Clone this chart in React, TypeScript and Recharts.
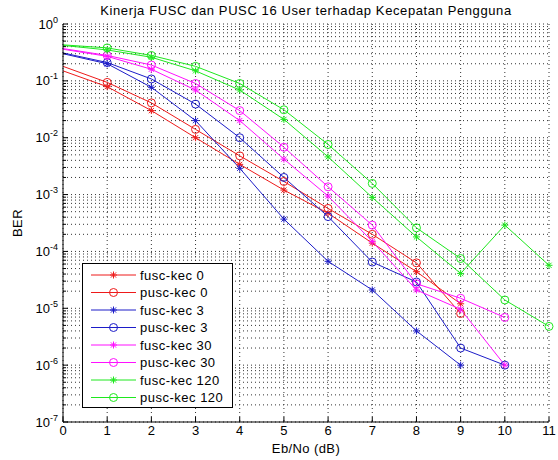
import React from "react";
import { LineChart, Line, XAxis, YAxis, CartesianGrid, Legend } from "recharts";

// Eb/No axis (dB)
const ebNo = [0, 1, 2, 3, 4, 5, 6, 7, 8, 9, 10, 11];

// BER per series (null = no point)
const fuscKec0 = [0.15, 0.079, 0.03, 0.01, 0.0034, 0.0012, 4.7e-4, 1.4e-4, 4.4e-5, 1.2e-5, null, null];
const puscKec0 = [0.18, 0.094, 0.041, 0.014, 0.0048, 0.0017, 5.7e-4, 2.0e-4, 6.3e-5, 8.1e-6, null, null];
const fuscKec3 = [0.3, 0.2, 0.077, 0.02, 0.0029, 3.7e-4, 6.7e-5, 2.1e-5, 4.0e-6, 1.0e-6, null, null];
const puscKec3 = [0.31, 0.21, 0.108, 0.039, 0.01, 0.002, 4.1e-4, 6.5e-5, 2.9e-5, 2.0e-6, 1.0e-6, null];
const fuscKec30 = [0.36, 0.27, 0.16, 0.069, 0.02, 0.0042, 9.4e-4, 1.5e-4, 2.1e-5, 9.6e-6, 1.0e-6, null];
const puscKec30 = [0.37, 0.28, 0.19, 0.09, 0.03, 0.0068, 0.00137, 2.9e-4, 2.7e-5, 1.5e-5, 6.9e-6, null];
const fuscKec120 = [0.42, 0.35, 0.26, 0.15, 0.069, 0.021, 0.0046, 8.9e-4, 1.8e-4, 4.1e-5, 2.9e-4, 5.7e-5];
const puscKec120 = [0.43, 0.38, 0.28, 0.18, 0.09, 0.031, 0.0076, 0.00157, 2.6e-4, 7.5e-5, 1.4e-5, 4.8e-6];

// y ticks: decades + minor multiples
const decades = [1e-7, 1e-6, 1e-5, 1e-4, 1e-3, 1e-2, 1e-1, 1];
const minorSteps = [2, 3, 4, 5, 6, 7, 8, 9];

const FONT = "'Liberation Sans', Arial, Helvetica, sans-serif";
const RED = "#ee1a1a";
const BLUE = "#1c1cc8";
const MAGENTA = "#ff10ff";
const GREEN = "#1ee81e";

const series = [
  { key: "f0", name: "fusc-kec 0", color: RED, marker: "star", values: fuscKec0 },
  { key: "p0", name: "pusc-kec 0", color: RED, marker: "circle", values: puscKec0 },
  { key: "f3", name: "fusc-kec 3", color: BLUE, marker: "star", values: fuscKec3 },
  { key: "p3", name: "pusc-kec 3", color: BLUE, marker: "circle", values: puscKec3 },
  { key: "f30", name: "fusc-kec 30", color: MAGENTA, marker: "star", values: fuscKec30 },
  { key: "p30", name: "pusc-kec 30", color: MAGENTA, marker: "circle", values: puscKec30 },
  { key: "f120", name: "fusc-kec 120", color: GREEN, marker: "star", values: fuscKec120 },
  { key: "p120", name: "pusc-kec 120", color: GREEN, marker: "circle", values: puscKec120 },
];

const data = ebNo.map((x, i) => {
  const row: Record<string, number | null> = { x };
  series.forEach((s) => {
    row[s.key] = s.values[i];
  });
  return row;
});

const yTicks: number[] = [];
decades.forEach((d) => {
  yTicks.push(d);
  if (d < 1) minorSteps.forEach((m) => yTicks.push(m * d));
});

const isMajor = (v: number) => {
  const l = Math.log10(v);
  return Math.abs(l - Math.round(l)) < 1e-6;
};

function Marker({ shape, color, cx, cy }: { shape: string; color: string; cx: number; cy: number }) {
  if (shape === "circle") {
    return <circle cx={cx} cy={cy} r={4} fill="none" stroke={color} strokeWidth={1} />;
  }
  const s = 3.5;
  const d = 2.6;
  return (
    <g stroke={color} strokeWidth={1}>
      <line x1={cx - s} y1={cy} x2={cx + s} y2={cy} />
      <line x1={cx} y1={cy - s} x2={cx} y2={cy + s} />
      <line x1={cx - d} y1={cy - d} x2={cx + d} y2={cy + d} />
      <line x1={cx - d} y1={cy + d} x2={cx + d} y2={cy - d} />
    </g>
  );
}

const makeDot = (shape: string, color: string) => (props: any) => {
  const { cx, cy, payload, index } = props;
  if (cx == null || cy == null || payload?.[props.dataKey] == null || payload.x === 0) {
    return <g key={`e-${index}`} />;
  }
  return (
    <g key={`d-${index}`}>
      <Marker shape={shape} color={color} cx={cx} cy={cy} />
    </g>
  );
};

const LeftTick = (props: any) => {
  const { x, y, payload } = props;
  const v = payload.value;
  const major = isMajor(v);
  return (
    <g>
      <line x1={x} y1={y} x2={x + (major ? 5 : 3)} y2={y} stroke="#000" />
      {major && (
        <text x={x - 5} y={y + 4.5} textAnchor="end" fontFamily={FONT} fontSize={13} fill="#000">
          <tspan>10</tspan>
          <tspan dy={-6} fontSize={9}>
            {Math.round(Math.log10(v))}
          </tspan>
        </text>
      )}
    </g>
  );
};

const RightTick = (props: any) => {
  const { x, y, payload } = props;
  const major = isMajor(payload.value);
  return <line x1={x} y1={y} x2={x - (major ? 5 : 3)} y2={y} stroke="#000" />;
};

const BottomTick = (props: any) => {
  const { x, y, payload } = props;
  return (
    <g>
      <line x1={x} y1={y} x2={x} y2={y - 5} stroke="#000" />
      <text x={x} y={y + 13} textAnchor="middle" fontFamily={FONT} fontSize={13} fill="#000">
        {payload.value}
      </text>
    </g>
  );
};

const TopTick = (props: any) => {
  const { x, y } = props;
  return <line x1={x} y1={y} x2={x} y2={y + 5} stroke="#000" />;
};

const LegendBox = () => (
  <svg width={151} height={145} style={{ display: "block" }}>
    <rect x={0.5} y={0.5} width={150} height={144} fill="#fff" stroke="#000" />
    {series.map((s, i) => {
      const cy = 12 + i * 17.5;
      return (
        <g key={s.key}>
          <line x1={9} y1={cy} x2={54} y2={cy} stroke={s.color} strokeWidth={1} />
          <Marker shape={s.marker} color={s.color} cx={31.5} cy={cy} />
          <text x={58} y={cy + 4.5} fontFamily={FONT} fontSize={13} letterSpacing={0.5} fill="#000">
            {s.name}
          </text>
        </g>
      );
    })}
  </svg>
);

export default function App() {
  return (
    <div style={{ position: "absolute", left: 0, top: 0, width: 558, height: 460, background: "#fff" }}>
      <LineChart width={558} height={460} data={data} margin={{ top: 24, right: 9, bottom: 0, left: 0 }}>
        <CartesianGrid stroke="#333" strokeDasharray="1 3" strokeWidth={1} />
        <XAxis
          dataKey="x"
          type="number"
          domain={[0, 11]}
          ticks={ebNo}
          height={38}
          tickSize={0}
          tickMargin={0}
          tickLine={false}
          axisLine={{ stroke: "#000" }}
          tick={<BottomTick />}
          interval={0}
        />
        <XAxis
          xAxisId="t"
          orientation="top"
          dataKey="x"
          type="number"
          domain={[0, 11]}
          ticks={ebNo}
          height={0}
          tickSize={0}
          tickMargin={0}
          tickLine={false}
          axisLine={{ stroke: "#000" }}
          tick={<TopTick />}
          interval={0}
        />
        <YAxis
          type="number"
          scale="log"
          domain={[1e-7, 1]}
          ticks={yTicks}
          allowDataOverflow
          width={63}
          tickSize={0}
          tickMargin={0}
          tickLine={false}
          axisLine={{ stroke: "#000" }}
          tick={<LeftTick />}
          interval={0}
        />
        <YAxis
          yAxisId="r"
          orientation="right"
          type="number"
          scale="log"
          domain={[1e-7, 1]}
          ticks={yTicks}
          allowDataOverflow
          width={0}
          tickSize={0}
          tickMargin={0}
          tickLine={false}
          axisLine={{ stroke: "#000" }}
          tick={<RightTick />}
          interval={0}
        />
        <Legend
          layout="vertical"
          align="center"
          verticalAlign="middle"
          wrapperStyle={{ position: "absolute", left: 82, top: 263, width: 151, height: 145 }}
          content={() => <LegendBox />}
        />
        {series.map((s) => (
          <Line
            key={s.key}
            dataKey={s.key}
            name={s.name}
            type="linear"
            stroke={s.color}
            strokeWidth={1}
            dot={makeDot(s.marker, s.color)}
            activeDot={false}
            connectNulls={false}
            isAnimationActive={false}
          />
        ))}
      </LineChart>
      <svg
        width={558}
        height={460}
        style={{ position: "absolute", left: 0, top: 0, pointerEvents: "none" }}
      >
        <text x={306} y={15} textAnchor="middle" fontFamily={FONT} fontSize={13} letterSpacing={0.6} fill="#000">
          Kinerja FUSC dan PUSC 16 User terhadap Kecepatan Pengguna
        </text>
        <text x={306} y={453} textAnchor="middle" fontFamily={FONT} fontSize={13} letterSpacing={0.4} fill="#000">
          Eb/No (dB)
        </text>
        <text
          transform="translate(22,223) rotate(-90)"
          textAnchor="middle"
          fontFamily={FONT}
          fontSize={13}
          letterSpacing={0.4}
          fill="#000"
        >
          BER
        </text>
      </svg>
    </div>
  );
}
